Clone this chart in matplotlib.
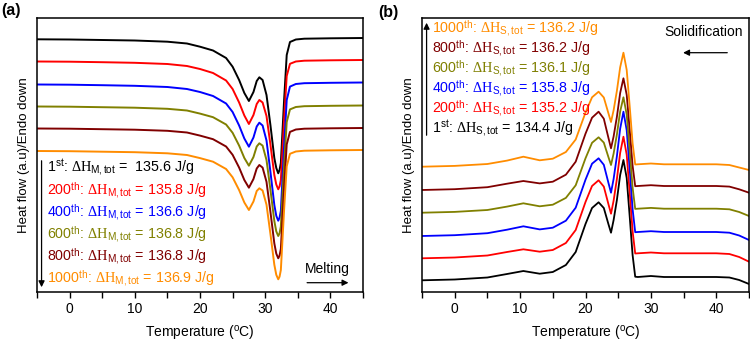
import numpy as np
import matplotlib
matplotlib.use("Agg")
import matplotlib.pyplot as plt
from matplotlib.ticker import MultipleLocator

plt.rcParams['font.family'] = ['Liberation Sans', 'DejaVu Sans']
plt.rcParams['mathtext.fontset'] = 'custom'
plt.rcParams['mathtext.rm'] = 'Liberation Serif'
plt.rcParams['mathtext.sf'] = 'Liberation Sans'
plt.rcParams['mathtext.it'] = 'Liberation Serif:italic'

# heat flow (a.u., larger value = further down / endo)
colors = ['black', '#ff0000', '#0000ff', '#808000', '#800000', '#ff8c00']
cycles = ['1', '200', '400', '600', '800', '1000']
sup = ['st', 'th', 'th', 'th', 'th', 'th']

# (a) melting
T_m = [-5, 0, 5, 10, 15, 18, 20, 22, 24, 25, 26, 26.8, 27.5, 28.2, 28.7, 29.1, 29.6, 30.2,
       30.8, 31.4, 31.7, 32.0, 32.2, 32.4, 32.9, 33.3, 33.8, 34.7, 36, 40, 45]
hf_m_1 = [39.3, 39.5, 40, 40.5, 41.7, 43.5, 46.7, 50.5, 58, 66.7, 80, 93, 101, 92, 81, 77.3, 80, 95,
          125, 158, 168, 173.3, 170, 163, 100, 55, 42, 39.5, 38.7, 38.3, 38]
hf_m_200 = [61.5, 61.7, 62.2, 62.8, 64, 66, 69, 73, 80.5, 89, 102.5, 115.5, 124, 115, 104, 100, 102.5, 116,
            144.5, 175, 184.5, 189.3, 186.5, 180, 119, 76, 63.8, 61.5, 60.7, 60.3, 60]
hf_m_400 = [84.5, 84.7, 85.2, 85.8, 87, 89, 92, 96, 103.5, 112, 125.5, 138.5, 146.7, 137.5, 126.5, 122.7, 125.5, 140.5,
            171.7, 205, 215.8, 220.7, 217.7, 211, 146, 100, 86.6, 84, 83.2, 82.8, 82.5]
hf_m_600 = [106.5, 106.7, 107.2, 107.7, 108.8, 110.5, 113.6, 117.2, 124.5, 132.8, 145.6, 158, 165.7, 157, 146.5, 143.3, 145.6, 160,
            189.7, 221, 231.4, 236, 233.4, 226.5, 165.5, 122, 109.4, 107, 106.2, 105.8, 105.5]
hf_m_800 = [128.5, 128.7, 129.2, 129.7, 130.8, 132.5, 135.6, 139.2, 146.5, 154.8, 167.6, 180, 187.7, 179, 168.5, 165, 167.6, 181.8,
            211.7, 243.4, 253.6, 258.3, 255.7, 249, 188, 144.4, 131.9, 129.5, 128.7, 128.3, 128]
hf_m_1000 = [151, 151.2, 151.7, 152.2, 153.3, 155, 158.1, 161.7, 169, 177.3, 190.1, 202.5, 210, 201.5, 191, 188.3, 190.5, 204.7,
             233.8, 264.7, 274.8, 279.3, 276.7, 270, 209.5, 166.3, 153.8, 151.5, 150.7, 150.3, 150]
dH_m = [' 135.6', '135.8', '136.6', '136.8', '136.8', '136.9']

# (b) solidification
T_s = [-5, 0, 5, 8, 10.5, 13, 15, 17, 18.5, 20, 21, 22, 22.8, 23.5, 23.9, 24.3, 24.8, 25.3, 25.8,
       26.3, 26.8, 27.2, 27.6, 28, 30, 32, 40, 42, 43.5, 45]
hf_s_1 = [280.3, 279.5, 277.5, 274, 271, 273.7, 272, 265, 252, 224, 208, 202.3, 208, 224, 232.7, 220, 200, 175, 160,
          178, 220, 255, 276.7, 277, 276, 277, 277, 277.5, 280, 284]
hf_s_200 = [258.3, 257.5, 255.5, 252, 249.3, 251.7, 250, 243, 230, 202, 186, 180.3, 186.6, 204, 213.7, 200.6, 179, 152.9, 136.7,
            154.7, 196.2, 231.1, 253.5, 253.3, 252.5, 253.3, 253.3, 254, 257, 261.7]
hf_s_400 = [236, 235.2, 233.2, 229.7, 226.3, 229.4, 227.7, 220.7, 207.7, 179.7, 163.7, 158.3, 164.8, 182.7, 192.7, 178.9, 156.2, 128.7, 111.7,
            130.2, 173, 209.1, 232.2, 232, 231.2, 232, 232, 232.7, 235.5, 240]
hf_s_600 = [212.7, 211.9, 210, 206.6, 203.3, 206.3, 204.7, 197.9, 185.3, 158.3, 142.8, 137.3, 142.6, 157, 165, 153.5, 134.5, 111.5, 97.3,
            114.5, 154.1, 187.5, 208.9, 208.7, 207.9, 208.7, 208.7, 209.3, 212, 216]
hf_s_800 = [190, 189.2, 187.2, 183.7, 181, 183.4, 181.7, 174.7, 161.7, 133.7, 117.7, 111.7, 118.7, 137.7, 148.3, 136.4, 116.8, 93, 78.3,
            94.9, 133.2, 165.5, 186.2, 186, 185.2, 186, 186, 186.6, 189.3, 192.7]
hf_s_1000 = [166.7, 165.9, 164, 160.6, 156.7, 160.3, 158.7, 152, 139.5, 112.6, 97.3, 91.7, 97.5, 113.2, 122, 110.2, 90.8, 67.3, 52.7,
             69.9, 109.6, 143.1, 164.5, 164.3, 163.5, 164.3, 164.3, 165, 167.5, 170]
dH_s = ['134.4', '135.2', '135.8', '136.1', '136.2', '136.2']

melt = [hf_m_1, hf_m_200, hf_m_400, hf_m_600, hf_m_800, hf_m_1000]
solid = [hf_s_1, hf_s_200, hf_s_400, hf_s_600, hf_s_800, hf_s_1000]

fig = plt.figure(figsize=(7.5, 3.42), dpi=100)
ax1 = fig.add_axes([37/750, 50/342, 326/750, 274/342])
ax2 = fig.add_axes([422/750, 50/342, 327/750, 274/342])

for ax in (ax1, ax2):
    ax.set_xlim(-5, 45)
    ax.set_ylim(292, 18)
    ax.set_yticks([])
    ax.xaxis.set_major_locator(MultipleLocator(10))
    ax.xaxis.set_minor_locator(MultipleLocator(5))
    ax.tick_params(axis='x', which='major', direction='out', length=4.5, width=1.0, labelsize=10, pad=3)
    ax.tick_params(axis='x', which='minor', direction='out', length=4.5, width=1.0)
    for s in ax.spines.values():
        s.set_linewidth(1.1)
    ax.set_xlabel(r'Temperature ($^{\mathsf{o}}$C)', fontsize=10, labelpad=5)
    ax.set_ylabel('Heat flow (a.u)/Endo down', fontsize=9.5, labelpad=5)

for i in range(6):
    ax1.plot(T_m, melt[i], color=colors[i], lw=1.4)
    ax2.plot(T_s, solid[i], color=colors[i], lw=1.3)

# annotations (a)
for i in range(6):
    ax1.text(-3.4, 168 + 22.2 * i,
             cycles[i] + r'$^{\mathsf{' + sup[i] + r'}}$: $\Delta\mathrm{H}_{\mathsf{M,tot}}$ = ' + dH_m[i] + ' J/g',
             color=colors[i], fontsize=10.3, va='center', ha='left')
ax1.annotate('', xy=(-4.3, 290), xytext=(-4.3, 158),
             arrowprops=dict(arrowstyle='-|>', color='black', lw=0.9, mutation_scale=9))
ax1.text(39.6, 268.7, 'Melting', fontsize=10, ha='center', va='center')
ax1.annotate('', xy=(43.2, 282.7), xytext=(36.0, 282.7),
             arrowprops=dict(arrowstyle='-|>', color='black', lw=0.9, mutation_scale=9))

# annotations (b)
ys = [128.3, 108.3, 88.3, 69, 48.3, 29]
for i in range(6):
    ax2.text(-3.5, ys[i],
             cycles[i] + r'$^{\mathsf{' + sup[i] + r'}}$: $\Delta\mathrm{H}_{\mathsf{S,tot}}$ = ' + dH_s[i] + ' J/g',
             color=colors[i], fontsize=10.3, va='center', ha='left')
ax2.annotate('', xy=(-4.3, 20), xytext=(-4.3, 138),
             arrowprops=dict(arrowstyle='-|>', color='black', lw=0.9, mutation_scale=9))
ax2.text(44.1, 32.3, 'Solidification', fontsize=10, ha='right', va='center')
ax2.annotate('', xy=(34.5, 52.7), xytext=(42.1, 52.7),
             arrowprops=dict(arrowstyle='-|>', color='black', lw=0.9, mutation_scale=9))

fig.text(1/750, 1 - 11/342, '(a)', fontsize=11.5, fontweight='bold', va='center', ha='left')
fig.text(378/750, 1 - 13/342, '(b)', fontsize=11.5, fontweight='bold', va='center', ha='left')

fig.savefig('out.png', dpi=100)
